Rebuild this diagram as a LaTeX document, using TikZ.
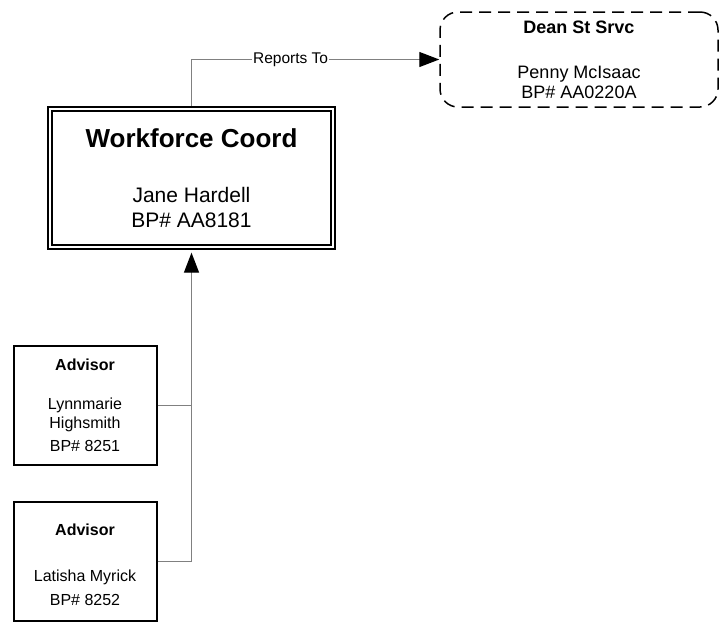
\documentclass[tikz,border=0pt]{standalone}
\usepackage{fontspec}
\setmainfont{Liberation Sans}
\usetikzlibrary{arrows.meta}
\definecolor{linkgray}{RGB}{128,128,128}
\tikzset{
  unitbox/.style={draw,line width=2pt,minimum width=143pt,minimum height=119pt,inner sep=2pt,align=center,font=\fontsize{16}{19}\selectfont},
  mainbox/.style={draw,line width=1.3pt,double=white,double distance=2.7pt,minimum width=283pt,minimum height=138pt,inner sep=2pt,align=center,font=\fontsize{21}{25}\selectfont},
  deanbox/.style={draw,line width=1.5pt,dash pattern=on 12pt off 7pt,rounded corners=18pt,minimum width=278pt,minimum height=95pt,inner sep=2pt,align=center,font=\fontsize{18}{20}\selectfont},
  link/.style={draw=linkgray,line width=1.3pt},
  tip/.style={-{Triangle[length=20pt,width=15pt,color=black]}}
}
\begin{document}
\begin{tikzpicture}[x=1pt,y=-1pt]
  \useasboundingbox (0,0) rectangle (720,622);

  \node[mainbox] (coord) at (191.5,178) {{\fontsize{26}{30}\selectfont\bfseries Workforce Coord}\\[30.5pt]Jane Hardell\\BP\# AA8181};
  \node[deanbox] (dean) at (579,59.5) {{\bfseries Dean St Srvc}\\[25pt]Penny McIsaac\\BP\# AA0220A};
  \node[unitbox] (adv1) at (85,405.5) {{\bfseries Advisor}\\[20pt]Lynnmarie\\Highsmith\\[4pt]BP\# 8251};
  \node[unitbox] (adv2) at (85,561.5) {{\bfseries\rule{0pt}{17.5pt}Advisor}\\[27.7pt]Latisha Myrick\\[4.3pt]BP\# 8252};

  \draw[link,tip,shorten <=2.6pt] (coord.north) |- node[pos=0.7,fill=white,inner sep=1pt,text=black,font=\fontsize{15.5}{18}\selectfont] {Reports To} (dean.west);
  \draw[link] (adv1.east) -- (adv1.east -| coord.south);
  \draw[link,tip,shorten >=5pt] (adv2.east) -| (coord.south);
\end{tikzpicture}
\end{document}
